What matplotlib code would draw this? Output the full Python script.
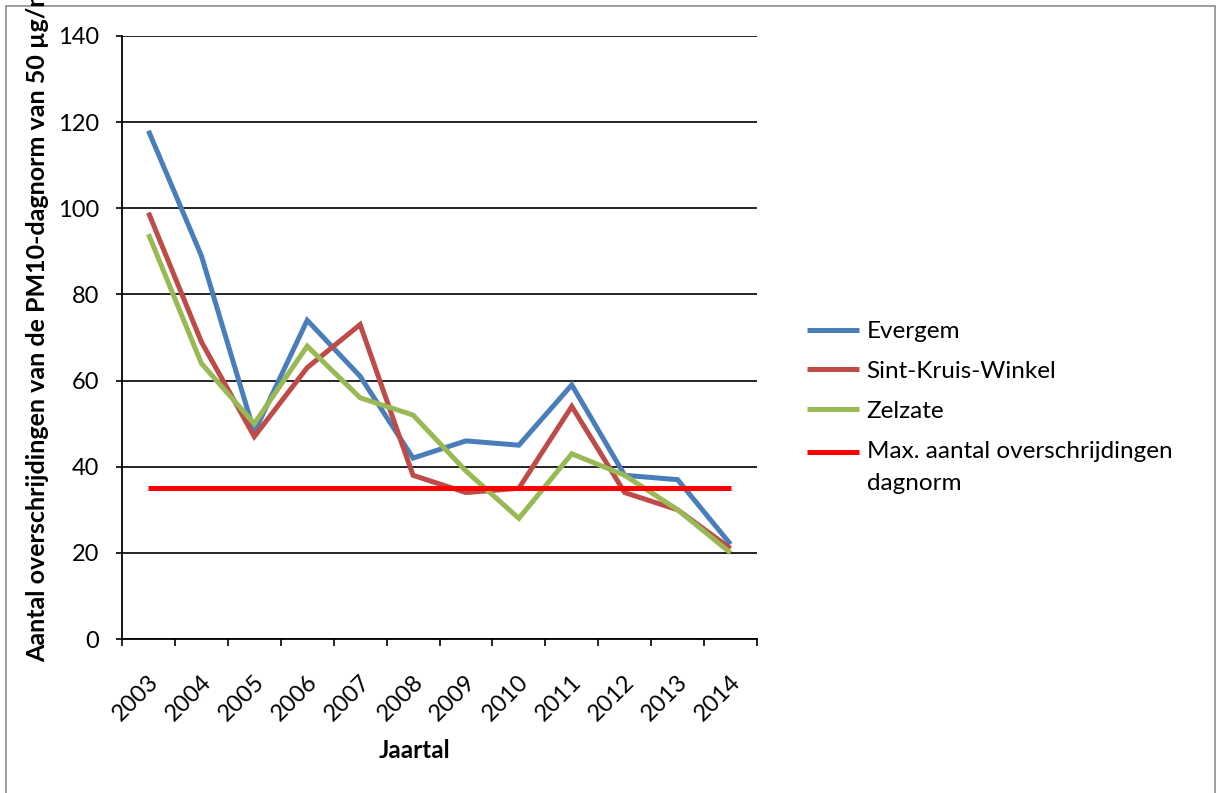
import matplotlib
matplotlib.use("Agg")
import matplotlib.pyplot as plt
from matplotlib.patches import Rectangle
from matplotlib.transforms import ScaledTranslation

# --- data -------------------------------------------------------------
years = ["2003", "2004", "2005", "2006", "2007", "2008",
         "2009", "2010", "2011", "2012", "2013", "2014"]
evergem = [118, 89, 48, 74, 61, 42, 46, 45, 59, 38, 37, 22]
sint_kruis_winkel = [99, 69, 47, 63, 73, 38, 34, 35, 54, 34, 30, 21]
zelzate = [94, 64, 50, 68, 56, 52, 39, 28, 43, 38, 30, 20]
max_norm = [35] * len(years)

series_names = ["Evergem", "Sint-Kruis-Winkel", "Zelzate",
                "Max. aantal overschrijdingen\ndagnorm"]
series_colors = ["#4A7EBB", "#BE4B48", "#98B954", "#FF0000"]
y_ticks = [0, 20, 40, 60, 80, 100, 120, 140]

# --- figure -------------------------------------------------------------
W, H, DPI = 1222, 793, 100
plt.rcParams["font.family"] = ["Lato", "DejaVu Sans"]
fig = plt.figure(figsize=(W / DPI, H / DPI), dpi=DPI)
ax = fig.add_axes([122 / W, 1 - 639 / H, (757 - 122) / W, (639 - 36) / H])

x = list(range(len(years)))
lw = 3.6
for vals, name, col in zip([evergem, sint_kruis_winkel, zelzate, max_norm],
                           series_names, series_colors):
    ax.plot(x, vals, color=col, lw=lw, label=name,
            solid_capstyle="butt", solid_joinstyle="miter", zorder=3)

ax.set_xlim(-0.5, len(years) - 0.5)
ax.set_ylim(0, 140)

# horizontal grid
ax.set_yticks(y_ticks)
ax.yaxis.grid(True, color="black", lw=1.2)
ax.set_axisbelow(True)
ax.tick_params(axis="y", length=4.5, width=1.2, pad=12, labelsize=17)

# category boundaries as ticks, labels at category centers
ax.set_xticks([i - 0.5 for i in range(len(years) + 1)])
ax.set_xticklabels([])
ax.tick_params(axis="x", which="major", length=5, width=1.2)
ax.set_xticks(x, minor=True)
ax.set_xticklabels(years, minor=True, rotation=45, ha="right", fontsize=17)
ax.tick_params(axis="x", which="minor", length=0, pad=23)
offset = ScaledTranslation(14 / DPI, 0, fig.dpi_scale_trans)
for lab in ax.get_xticklabels(minor=True):
    lab.set_transform(lab.get_transform() + offset)

for side in ("top", "right"):
    ax.spines[side].set_visible(False)
for side in ("left", "bottom"):
    ax.spines[side].set_linewidth(1.3)
    ax.spines[side].set_color("black")

# axis titles
fig.text(37 / W, 1 - 662 / H,
         "Aantal overschrijdingen van de PM10-dagnorm van 50 µg/m³",
         rotation=90, ha="center", va="bottom", fontsize=18,
         fontweight="bold")
fig.text(415 / W, 1 - 751 / H, "Jaartal", ha="center", va="center",
         fontsize=17.5, fontweight="bold")

# legend
leg = ax.legend(loc="upper left", bbox_to_anchor=(807 / W, 1 - 321 / H),
                bbox_transform=fig.transFigure, frameon=False, fontsize=17.5,
                handlelength=2.15, handletextpad=0.3, labelspacing=0.78,
                borderpad=0, borderaxespad=0)
for h in leg.legend_handles:
    h.set_linewidth(lw)
leg.texts[3].set_linespacing(1.65)
# align the handle of the two-line entry with its first line
h4 = leg.legend_handles[3]
h4.set_ydata([y + 11 for y in h4.get_ydata()])

# outer chart border
fig.add_artist(Rectangle((6 / W, -0.02), (1215 - 6) / W, 1 - 6 / H + 0.02,
                         transform=fig.transFigure, fill=False,
                         edgecolor="#8C8C8C", lw=1.2))

fig.savefig("out.png", dpi=DPI)
